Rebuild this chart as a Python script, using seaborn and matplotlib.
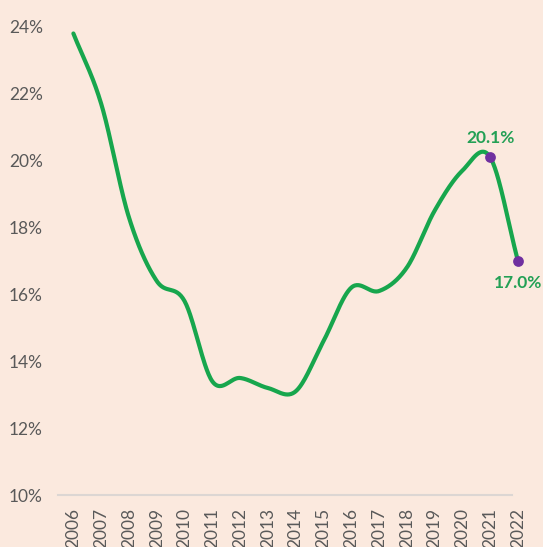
import numpy as np
import pandas as pd
import matplotlib
matplotlib.use("Agg")
import matplotlib.pyplot as plt
import seaborn as sns

# values (percent)
years = [2006, 2007, 2008, 2009, 2010, 2011, 2012, 2013, 2014,
         2015, 2016, 2017, 2018, 2019, 2020, 2021, 2022]
rate = [23.8, 21.7, 18.3, 16.4, 15.8, 13.4, 13.5, 13.2, 13.1,
        14.6, 16.2, 16.1, 16.8, 18.5, 19.7, 20.1, 17.0]
labelled_years = [2021, 2022]
label_text = ["20.1%", "17.0%"]

BG = "#FBE9DE"
GREEN = "#17A64D"
LABEL_GREEN = "#23A055"
PURPLE = "#7030A0"
GREY_TXT = "#595959"


def smooth(xs, ys, n=30):
    # Excel-like smoothed line: Catmull-Rom style bezier through every point
    xs = np.asarray(xs, float)
    ys = np.asarray(ys, float)
    px = np.concatenate([[2 * xs[0] - xs[1]], xs, [2 * xs[-1] - xs[-2]]])
    py = np.concatenate([[2 * ys[0] - ys[1]], ys, [2 * ys[-1] - ys[-2]]])
    out_x, out_y = [], []
    t = np.linspace(0, 1, n, endpoint=False)
    for i in range(1, len(px) - 2):
        p0, p1, p2, p3 = [np.array([px[j], py[j]]) for j in (i - 1, i, i + 1, i + 2)]
        c1 = p1 + (p2 - p0) / 6.0
        c2 = p2 - (p3 - p1) / 6.0
        pts = (((1 - t) ** 3)[:, None] * p1 + (3 * (1 - t) ** 2 * t)[:, None] * c1
               + (3 * (1 - t) * t ** 2)[:, None] * c2 + (t ** 3)[:, None] * p2)
        out_x.extend(pts[:, 0])
        out_y.extend(pts[:, 1])
    out_x.append(xs[-1])
    out_y.append(ys[-1])
    return np.array(out_x), np.array(out_y)


sns.set_style("white")
plt.rcParams["font.family"] = ["Lato", "DejaVu Sans"]

fig = plt.figure(figsize=(5.43, 5.47), dpi=100, facecolor=BG)
ax = fig.add_axes([0.107, 0.095, 0.875, 0.856])
ax.set_facecolor(BG)

pos = np.arange(len(years))
sx, sy = smooth(pos, rate)
curve = pd.DataFrame({"x": sx, "y": sy})
sns.lineplot(data=curve, x="x", y="y", sort=False, estimator=None,
             color=GREEN, linewidth=3, ax=ax, clip_on=False)

idx = [years.index(y) for y in labelled_years]
pts = pd.DataFrame({"x": pos[idx], "y": [rate[i] for i in idx]})
sns.scatterplot(data=pts, x="x", y="y", color=PURPLE, s=60, edgecolor=PURPLE,
                linewidth=0, zorder=5, ax=ax, clip_on=False)

offsets = [(0, 14), (0, -16)]
for i, txt, off in zip(idx, label_text, offsets):
    ax.annotate(txt, (pos[i], rate[i]), xytext=off, textcoords="offset points",
                ha="center", va="center", fontsize=12.5, fontweight="bold",
                color=LABEL_GREEN)

ax.set_xlim(-0.55, len(years) - 1 + 0.55)
ax.set_ylim(10, 24)
ax.set_yticks(np.arange(10, 25, 2))
ax.set_yticklabels([f"{v}%" for v in range(10, 25, 2)])
ax.set_xticks(pos)
ax.set_xticklabels([str(y) for y in years], rotation=90)
ax.tick_params(axis="y", length=0, pad=11, labelsize=12.5, labelcolor=GREY_TXT)
ax.tick_params(axis="x", length=0, pad=9, labelsize=12.5, labelcolor=GREY_TXT)
for lbl in ax.get_xticklabels():
    lbl.set_va("top")
ax.set_xlabel("")
ax.set_ylabel("")

for side in ["top", "right", "left"]:
    ax.spines[side].set_visible(False)
ax.spines["bottom"].set_color("#DCD6D3")
ax.spines["bottom"].set_linewidth(1.5)
ax.spines["bottom"].set_bounds(-0.55, 15.8)

fig.savefig("out.png", dpi=100, facecolor=BG)
